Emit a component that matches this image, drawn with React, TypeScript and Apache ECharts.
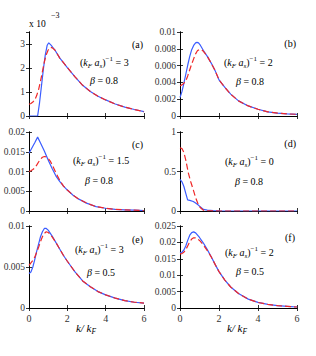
import React, { useEffect, useRef } from 'react';
import * as echarts from 'echarts';

// ---------- data ----------
// (a) values in units of 1e-3
const aBlueX = [0, 0.45, 0.55, 0.65, 0.75, 0.85, 0.95, 1.03, 1.15, 1.35, 1.6, 2.0, 2.4, 2.8, 3.2, 3.6, 4.0, 4.5, 5.0, 5.5, 6.0];
const aBlueY = [0, 0, 0.55, 1.25, 1.95, 2.55, 2.95, 3.05, 2.95, 2.75, 2.42, 2.02, 1.63, 1.28, 1.02, 0.82, 0.67, 0.5, 0.37, 0.27, 0.18];
const aRedX = [0, 0.1, 0.2, 0.3, 0.4, 0.5, 0.6, 0.7, 0.8, 0.9, 1.0, 1.1, 1.2, 1.35, 1.6, 2.0, 2.4, 2.8, 3.2, 3.6, 4.0, 4.5, 5.0, 5.5, 6.0];
const aRedY = [0.49, 0.52, 0.58, 0.67, 0.85, 1.1, 1.45, 1.85, 2.25, 2.55, 2.75, 2.85, 2.85, 2.75, 2.42, 2.02, 1.63, 1.28, 1.02, 0.82, 0.67, 0.5, 0.37, 0.27, 0.18];

// (b)
const bBlueX = [0, 0.1, 0.2, 0.3, 0.4, 0.5, 0.6, 0.7, 0.8, 0.87, 0.95, 1.05, 1.2, 1.4, 1.6, 1.8, 2.0, 2.3, 2.6, 3.0, 3.5, 4.0, 4.5, 5.0, 5.5, 6.0];
const bBlueY = [0.0022, 0.0029, 0.0039, 0.005, 0.0061, 0.0071, 0.0079, 0.0084, 0.0087, 0.00877, 0.0087, 0.0084, 0.0078, 0.0071, 0.0063, 0.0054, 0.0043, 0.0034, 0.0026, 0.0018, 0.0012, 0.0008, 0.0005, 0.00035, 0.00025, 0.0002];
const bRedX = [0, 0.1, 0.2, 0.3, 0.4, 0.5, 0.6, 0.7, 0.8, 0.9, 1.0, 1.1, 1.2, 1.4, 1.6, 1.8, 2.0, 2.3, 2.6, 3.0, 3.5, 4.0, 4.5, 5.0, 5.5, 6.0];
const bRedY = [0.0036, 0.0037, 0.0039, 0.0042, 0.0048, 0.0055, 0.0062, 0.0068, 0.0074, 0.0078, 0.0079, 0.0079, 0.0077, 0.0071, 0.0063, 0.0054, 0.0043, 0.0034, 0.0026, 0.0018, 0.0012, 0.0008, 0.0005, 0.00035, 0.00025, 0.0002];

// (c)
const cBlueX = [0, 0.1, 0.2, 0.3, 0.45, 0.6, 0.8, 1.0, 1.2, 1.4, 1.6, 1.8, 2.0, 2.3, 2.6, 3.0, 3.5, 4.0, 4.5, 5.0, 5.5, 6.0];
const cBlueY = [0.0146, 0.0155, 0.0164, 0.0173, 0.0187, 0.0172, 0.0152, 0.0129, 0.0108, 0.0089, 0.0075, 0.0063, 0.0053, 0.004, 0.003, 0.002, 0.0011, 0.0007, 0.0004, 0.0003, 0.0002, 0.0001];
const cRedX = [0, 0.1, 0.2, 0.3, 0.4, 0.5, 0.6, 0.7, 0.8, 0.9, 1.0, 1.1, 1.2, 1.4, 1.6, 1.8, 2.0, 2.3, 2.6, 3.0, 3.5, 4.0, 4.5, 5.0, 5.5, 6.0];
const cRedY = [0.01, 0.0102, 0.0105, 0.0109, 0.0116, 0.0124, 0.0131, 0.0136, 0.0138, 0.0137, 0.0133, 0.0127, 0.0118, 0.0097, 0.0078, 0.0063, 0.0053, 0.004, 0.003, 0.002, 0.0011, 0.0007, 0.0004, 0.0003, 0.0002, 0.0001];

// (d)
const dBlueX = [0, 0.1, 0.2, 0.3, 0.39, 0.5, 0.68, 0.8, 0.94, 1.05, 1.2, 1.4, 1.7, 2.0, 2.5, 3.0, 4.0, 5.0, 6.0];
const dBlueY = [0.4, 0.37, 0.31, 0.22, 0.14, 0.135, 0.12, 0.1, 0.075, 0.05, 0.02, 0.01, 0.005, 0.002, 0, 0, 0, 0, 0];
const dRedX = [0, 0.1, 0.2, 0.3, 0.43, 0.55, 0.68, 0.8, 0.94, 1.05, 1.2, 1.4, 2.0, 3.0, 4.0, 5.0, 6.0];
const dRedY = [0.8, 0.79, 0.74, 0.64, 0.48, 0.37, 0.27, 0.17, 0.08, 0.04, 0.01, 0.003, 0, 0, 0, 0, 0];

// (e)
const eBlueX = [0, 0.1, 0.2, 0.3, 0.4, 0.5, 0.6, 0.7, 0.8, 0.9, 1.0, 1.2, 1.4, 1.6, 1.8, 2.0, 2.4, 2.8, 3.2, 3.6, 4.0, 4.5, 5.0, 5.5, 6.0];
const eBlueY = [0.0042, 0.0044, 0.005, 0.0059, 0.0069, 0.0078, 0.0087, 0.0093, 0.0097, 0.0097, 0.0095, 0.0088, 0.008, 0.0072, 0.0064, 0.0057, 0.0044, 0.0033, 0.0026, 0.002, 0.0016, 0.0012, 0.0009, 0.0007, 0.0006];
const eRedX = [0, 0.1, 0.2, 0.3, 0.4, 0.5, 0.6, 0.7, 0.8, 0.9, 1.0, 1.1, 1.2, 1.4, 1.6, 1.8, 2.0, 2.4, 2.8, 3.2, 3.6, 4.0, 4.5, 5.0, 5.5, 6.0];
const eRedY = [0.0052, 0.0055, 0.0058, 0.0062, 0.0068, 0.0074, 0.0081, 0.0087, 0.0091, 0.0093, 0.0092, 0.009, 0.0087, 0.008, 0.0072, 0.0064, 0.0057, 0.0044, 0.0033, 0.0026, 0.002, 0.0016, 0.0012, 0.0009, 0.0007, 0.0006];

// (f)
const fBlueX = [0, 0.1, 0.2, 0.3, 0.4, 0.5, 0.6, 0.7, 0.8, 0.9, 1.0, 1.2, 1.4, 1.6, 1.8, 2.0, 2.3, 2.6, 3.0, 3.5, 4.0, 4.5, 5.0, 5.5, 6.0];
const fBlueY = [0.0168, 0.017, 0.0177, 0.019, 0.0207, 0.0222, 0.023, 0.0232, 0.0229, 0.0222, 0.0215, 0.0198, 0.0178, 0.0156, 0.0133, 0.0111, 0.0085, 0.0064, 0.0044, 0.0027, 0.0017, 0.0011, 0.0007, 0.0005, 0.0003];
const fRedX = [0, 0.1, 0.2, 0.3, 0.4, 0.5, 0.6, 0.7, 0.8, 0.9, 1.0, 1.2, 1.4, 1.6, 1.8, 2.0, 2.3, 2.6, 3.0, 3.5, 4.0, 4.5, 5.0, 5.5, 6.0];
const fRedY = [0.0165, 0.0166, 0.017, 0.0178, 0.019, 0.0202, 0.021, 0.0214, 0.0214, 0.0211, 0.0206, 0.0192, 0.0175, 0.0156, 0.0133, 0.0111, 0.0085, 0.0064, 0.0044, 0.0027, 0.0017, 0.0011, 0.0007, 0.0005, 0.0003];

const panelLetters = ['(a)', '(b)', '(c)', '(d)', '(e)', '(f)'];
const invKa = ['3', '2', '1.5', '0', '3', '2'];
const betas = ['0.8', '0.8', '0.8', '0.8', '0.5', '0.5'];
const yMax = [3.5, 0.01, 0.02, 1, 0.01, 0.025];
const yInterval = [1, 0.002, 0.005, 0.5, 0.005, 0.005];
const xTickInterval = 2;
const xMin = 0;
const xMax = 6;

const zip = (xs: number[], ys: number[]) => xs.map((x, i) => [x, ys[i]]);

const blueSets = [
  zip(aBlueX, aBlueY), zip(bBlueX, bBlueY), zip(cBlueX, cBlueY),
  zip(dBlueX, dBlueY), zip(eBlueX, eBlueY), zip(fBlueX, fBlueY),
];
const redSets = [
  zip(aRedX, aRedY), zip(bRedX, bRedY), zip(cRedX, cRedY),
  zip(dRedX, dRedY), zip(eRedX, eRedY), zip(fRedX, fRedY),
];

// ---------- layout ----------
const colLeft = [29, 180];
const colWidth = [115, 117];
const rowTop = [32, 132, 226];
const rowHeight = [84, 79, 82];

const FONT = "'Liberation Serif', 'Times New Roman', Times, serif";
const TXT = '#333';
const BLUE = '#3a5cff';
const RED = '#f02828';

const rich = {
  t: { fontFamily: FONT, fontStyle: 'italic', fontSize: 10, lineHeight: 14, verticalAlign: 'middle', color: TXT },
  r: { fontFamily: FONT, fontSize: 10, lineHeight: 14, verticalAlign: 'middle', color: TXT },
  s: { fontFamily: FONT, fontStyle: 'italic', fontSize: 7, lineHeight: 8, verticalAlign: 'bottom', color: TXT },
  p: { fontFamily: FONT, fontSize: 7, lineHeight: 8, verticalAlign: 'top', color: TXT },
};

// annotation anchor positions (page pixels)
const letterPos = [[143, 44], [296, 43], [143, 144], [296, 143], [143, 239], [295, 237]];
const formulaPos = [[80, 62], [224, 62], [73, 160], [225, 161], [75, 249], [225, 252]];
const betaPos = [[90, 80], [236, 81], [85, 180], [235, 181], [87, 272], [236, 271]];

export default function App() {
  const ref = useRef<HTMLDivElement>(null);

  useEffect(() => {
    if (!ref.current) return;
    const chart = echarts.init(ref.current, undefined, { renderer: 'svg' });

    const grids: any[] = [];
    const xAxes: any[] = [];
    const yAxes: any[] = [];
    const series: any[] = [];
    const graphics: any[] = [];

    for (let i = 0; i < 6; i++) {
      const col = i % 2;
      const row = Math.floor(i / 2);
      grids.push({
        left: colLeft[col], top: rowTop[row], width: colWidth[col], height: rowHeight[row],
        show: false, containLabel: false,
      });
      const axisLine = { show: true, lineStyle: { color: '#000', width: 1 } };
      const axisTick = { show: true, inside: true, length: 3, lineStyle: { color: '#000', width: 0.8 } };
      xAxes.push({
        type: 'value', gridIndex: i, position: 'bottom', min: xMin, max: xMax, interval: xTickInterval,
        axisLine, axisTick, splitLine: { show: false },
        axisLabel: { show: row === 2, margin: 5, fontFamily: FONT, fontSize: 10, color: TXT },
      });
      xAxes.push({
        type: 'value', gridIndex: i, position: 'top', min: xMin, max: xMax, interval: xTickInterval,
        axisLine, axisTick, splitLine: { show: false }, axisLabel: { show: false },
      });
      yAxes.push({
        type: 'value', gridIndex: i, position: 'left', min: 0, max: yMax[i], interval: yInterval[i],
        axisLine, axisTick, splitLine: { show: false },
        axisLabel: { show: true, margin: 4, fontFamily: FONT, fontSize: 9.5, color: TXT, showMaxLabel: i !== 0 },
      });
      yAxes.push({
        type: 'value', gridIndex: i, position: 'right', min: 0, max: yMax[i], interval: yInterval[i],
        axisLine, axisTick, splitLine: { show: false }, axisLabel: { show: false },
      });

      series.push({
        type: 'line', xAxisIndex: 2 * i, yAxisIndex: 2 * i, data: blueSets[i],
        symbol: 'none', lineStyle: { color: BLUE, width: 1.2 }, itemStyle: { color: BLUE }, z: 2,
      });
      series.push({
        type: 'line', xAxisIndex: 2 * i, yAxisIndex: 2 * i, data: redSets[i],
        symbol: 'none', lineStyle: { color: RED, width: 1.2, type: [6, 3] }, itemStyle: { color: RED }, z: 3,
      });

      graphics.push({
        type: 'text', x: letterPos[i][0], y: letterPos[i][1],
        style: {
          text: `{r|${panelLetters[i]}}`, rich,
          align: 'right', verticalAlign: 'middle', textAlign: 'right', textVerticalAlign: 'middle',
        },
      });
      graphics.push({
        type: 'text', x: formulaPos[i][0], y: formulaPos[i][1],
        style: {
          text: `{r|(}{t|k}{s|F}{t| a}{s|s}{r|)}{p|−1}{r| = ${invKa[i]}}`, rich,
          align: 'left', verticalAlign: 'middle', textAlign: 'left', textVerticalAlign: 'middle',
        },
      });
      graphics.push({
        type: 'text', x: betaPos[i][0], y: betaPos[i][1],
        style: {
          text: `{t|β}{r| = ${betas[i]}}`, rich,
          align: 'left', verticalAlign: 'middle', textAlign: 'left', textVerticalAlign: 'middle',
        },
      });
    }

    // x 10^-3 multiplier
    graphics.push({
      type: 'text', x: 29, y: 24,
      style: {
        text: '{r|x 10}', rich: { r: { fontFamily: FONT, fontSize: 9.5, color: TXT } },
        align: 'left', verticalAlign: 'middle', textAlign: 'left', textVerticalAlign: 'middle',
      },
    });
    graphics.push({
      type: 'text', x: 51, y: 15,
      style: {
        text: '{r|−3}', rich: { r: { fontFamily: FONT, fontSize: 8, color: TXT } },
        align: 'left', verticalAlign: 'middle', textAlign: 'left', textVerticalAlign: 'middle',
      },
    });

    // x axis titles
    [86, 237].forEach((cx) => {
      graphics.push({
        type: 'text', x: cx, y: 328,
        style: {
          text: '{tb|k/ k}{sb|F}',
          rich: {
            tb: { fontFamily: FONT, fontStyle: 'italic', fontSize: 11, lineHeight: 15, verticalAlign: 'middle', color: TXT },
            sb: { fontFamily: FONT, fontStyle: 'italic', fontSize: 7.5, lineHeight: 9, verticalAlign: 'bottom', color: TXT },
          },
          align: 'center', verticalAlign: 'middle', textAlign: 'center', textVerticalAlign: 'middle',
        },
      });
    });

    chart.setOption({
      animation: false,
      backgroundColor: '#fff',
      grid: grids,
      xAxis: xAxes,
      yAxis: yAxes,
      series,
      graphic: graphics,
    });

    return () => chart.dispose();
  }, []);

  return (
    <div
      ref={ref}
      style={{ position: 'fixed', left: 0, top: 0, width: 316, height: 356, background: '#fff' }}
    />
  );
}
